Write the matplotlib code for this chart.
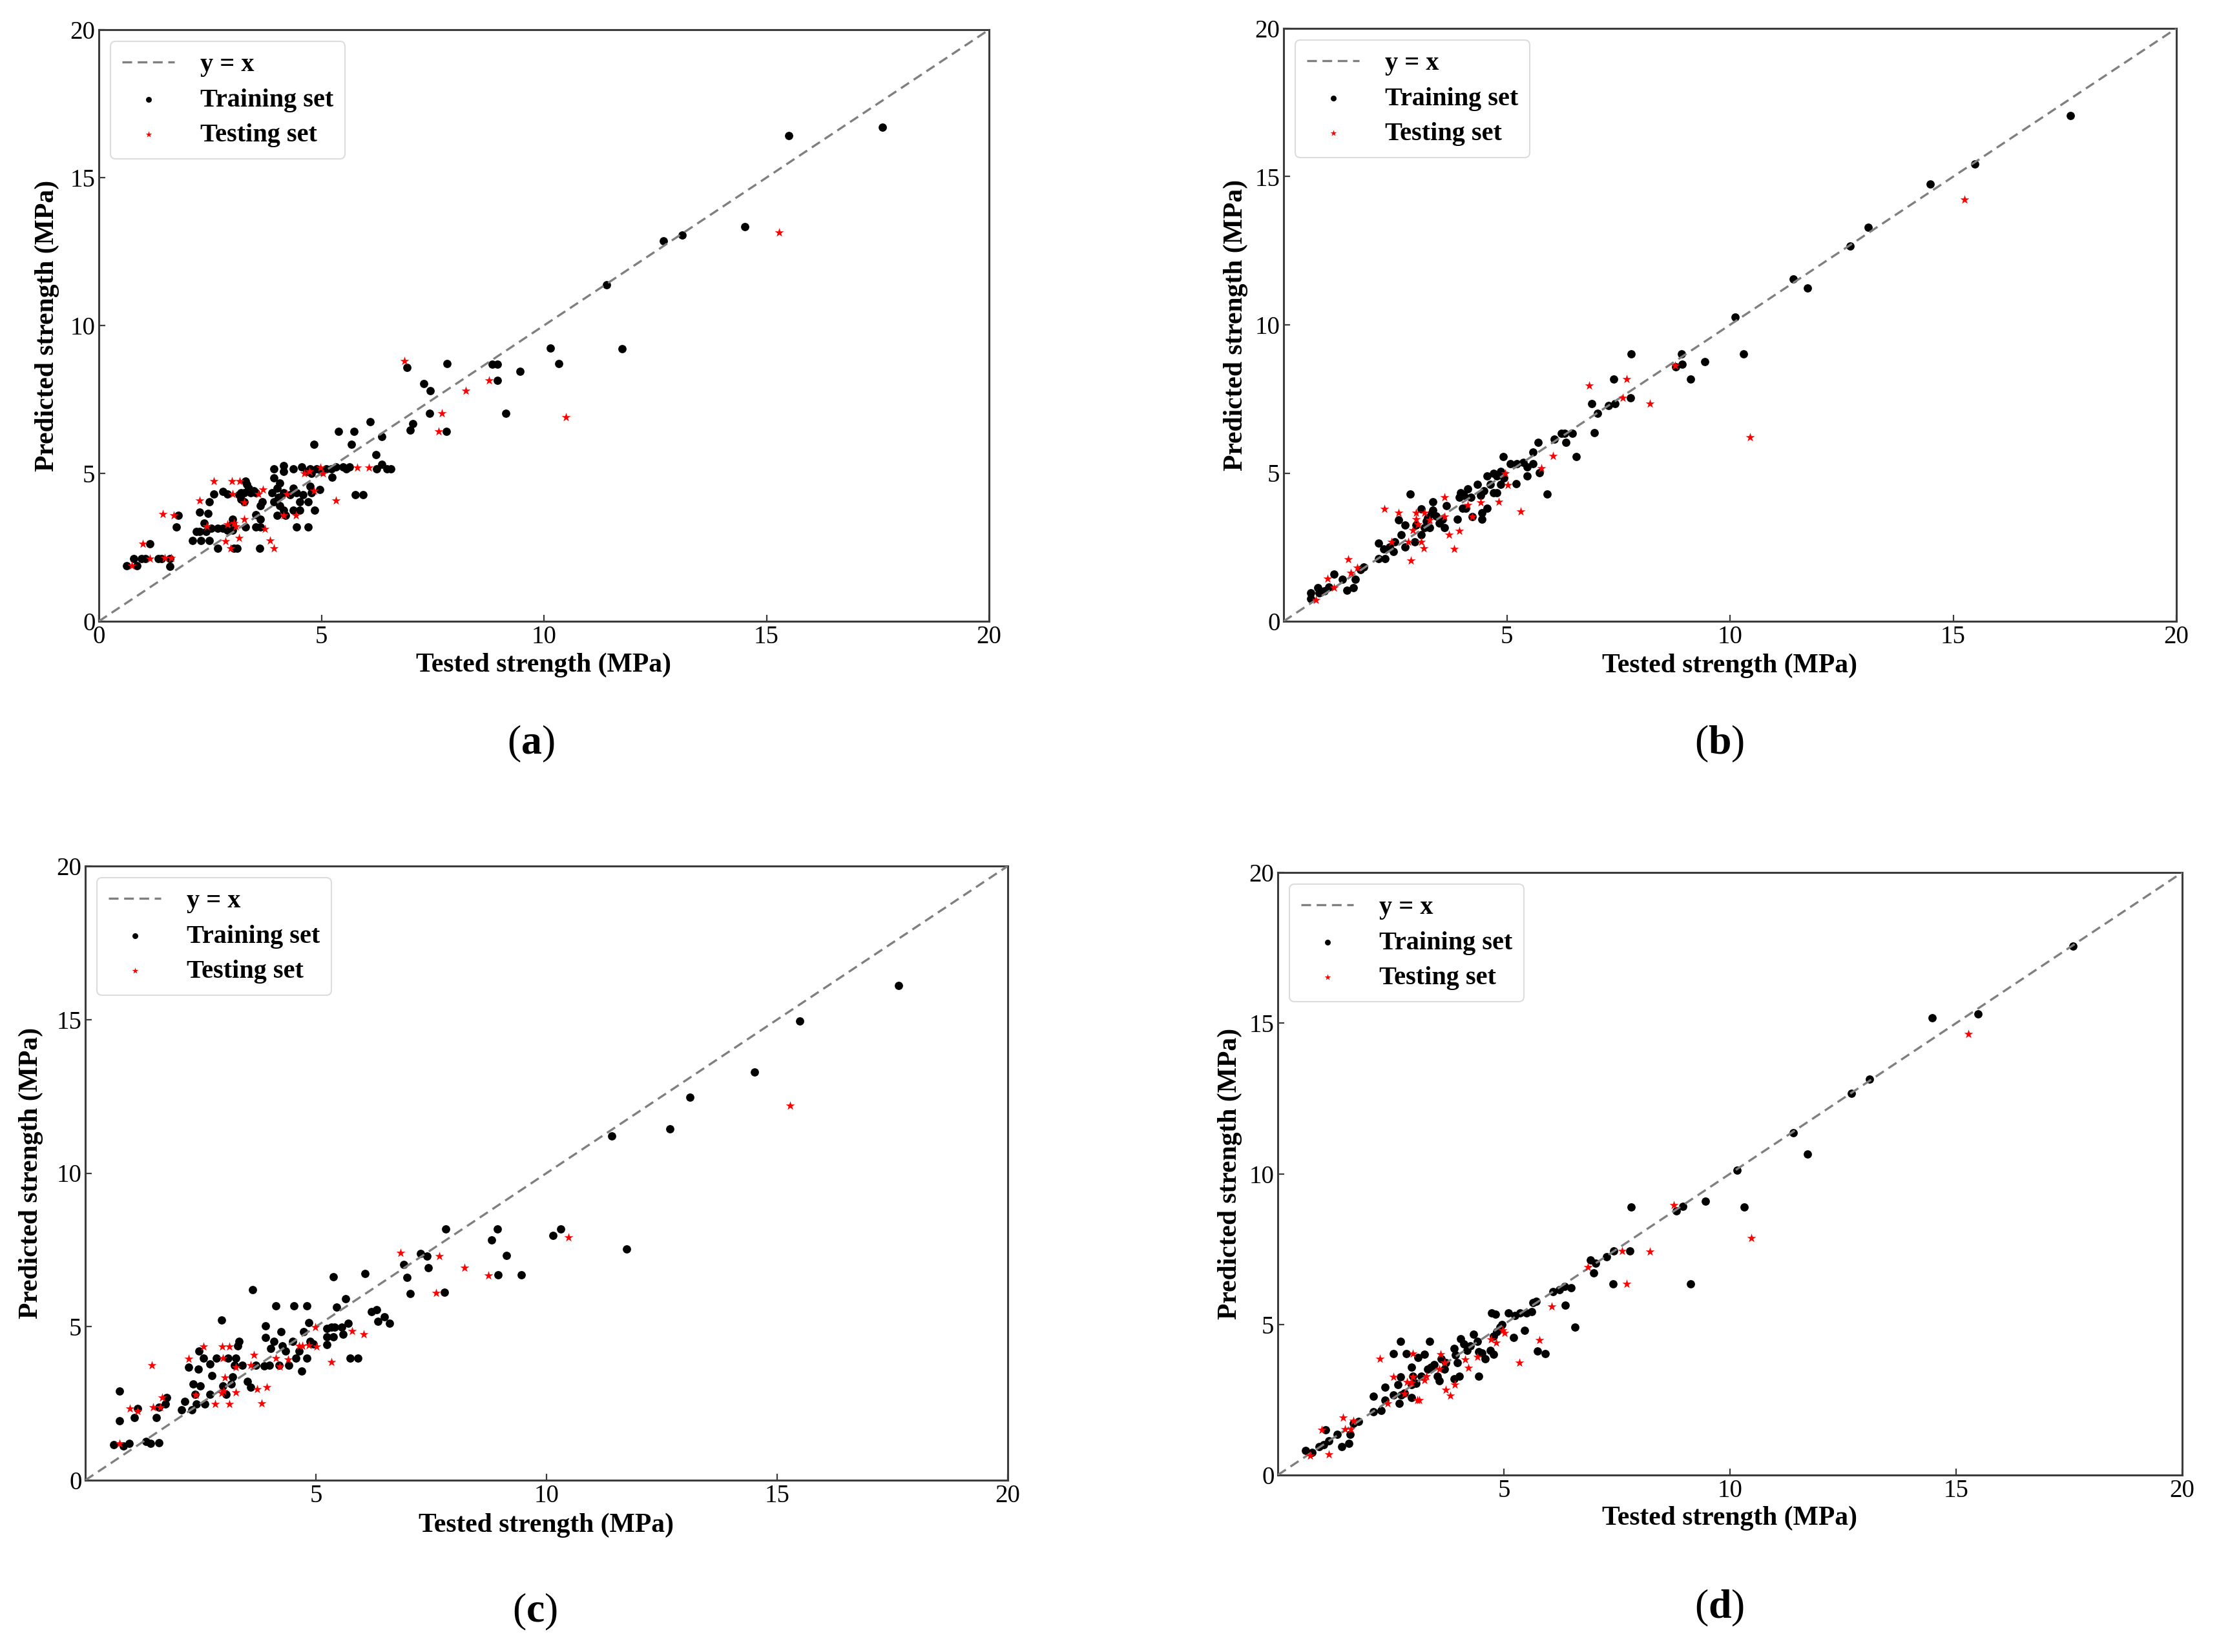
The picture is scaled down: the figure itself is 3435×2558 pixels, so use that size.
import matplotlib
matplotlib.use("Agg")
import matplotlib.pyplot as plt
import numpy as np

plt.rcParams['font.family'] = ['Liberation Serif', 'DejaVu Serif']
plt.rcParams['mathtext.fontset'] = 'custom'
plt.rcParams['mathtext.rm'] = 'Liberation Serif'
plt.rcParams['mathtext.bf'] = 'Liberation Serif:bold'

# ---------------- data: panel (a) ----------------
train_a = [
    (0.63, 1.88), (0.85, 1.88), (0.78, 2.12), (0.96, 2.12), (1.04, 2.12), (1.33, 2.12), (1.41, 2.12),
    (1.59, 2.12), (1.59, 1.86), (1.15, 2.63), (1.78, 3.58), (1.74, 3.19), (2.11, 2.74), (2.30, 2.74),
    (2.48, 2.74), (2.19, 3.03), (2.26, 3.03), (2.41, 3.03), (2.52, 3.14), (2.67, 3.14), (2.78, 3.14),
    (2.89, 3.07), (3.00, 3.07), (2.37, 3.32), (3.00, 3.32), (3.00, 3.45), (2.26, 3.70), (2.46, 3.65),
    (2.48, 4.05), (2.59, 4.31), (2.89, 4.31), (2.78, 4.38), (2.67, 2.46), (3.04, 2.46), (3.10, 2.46),
    (3.61, 2.46), (3.19, 4.34), (3.26, 4.34), (3.30, 4.74), (3.33, 4.63), (3.41, 4.34), (3.48, 4.42),
    (3.19, 4.12), (3.26, 4.05), (3.15, 4.27), (3.37, 4.49), (3.52, 4.34), (3.30, 3.19), (3.52, 3.19),
    (3.63, 3.19), (3.52, 3.61), (3.63, 3.45), (3.67, 4.05), (3.63, 3.90), (3.93, 5.15), (4.15, 5.26),
    (4.15, 5.07), (4.37, 5.15), (4.56, 5.22), (4.67, 5.07), (4.74, 5.15), (3.93, 4.85), (4.07, 4.67),
    (4.00, 4.49), (4.15, 4.34), (4.37, 4.49), (4.44, 4.34), (4.30, 4.27), (3.93, 4.05), (4.07, 3.90),
    (4.15, 3.76), (4.00, 3.58), (4.19, 3.58), (4.37, 3.76), (4.52, 3.76), (4.52, 4.05), (4.70, 4.05),
    (4.44, 3.19), (4.70, 3.19), (4.85, 3.76), (3.89, 4.34), (4.04, 4.20), (4.59, 4.27), (4.74, 4.56),
    (4.83, 5.99), (4.78, 4.34), (4.96, 4.45), (4.78, 5.00), (4.89, 5.15), (5.11, 5.15), (5.22, 5.15),
    (5.33, 5.22), (5.48, 5.22), (5.63, 5.22), (5.00, 5.07), (5.56, 5.15), (5.24, 4.87), (5.39, 6.41),
    (5.74, 6.41), (5.67, 5.99), (5.76, 4.29), (5.93, 4.29), (6.10, 6.75), (6.22, 5.64), (6.36, 6.24),
    (6.24, 5.15), (6.36, 5.30), (6.56, 5.15), (6.48, 5.15), (6.93, 8.58), (6.99, 6.46), (7.05, 6.68),
    (7.30, 8.03), (7.44, 7.79), (7.43, 7.04), (7.83, 8.71), (7.81, 6.41), (8.84, 8.69), (8.95, 8.69),
    (8.96, 8.14), (9.15, 7.04), (9.47, 8.45), (10.15, 9.23), (10.33, 8.71), (11.75, 9.21), (11.41, 11.38),
    (12.69, 12.87), (13.10, 13.06), (14.51, 13.35), (15.50, 16.43), (17.60, 16.70),
]
test_a = [
    (0.74, 1.88), (0.99, 2.63), (1.15, 2.12), (1.44, 3.63), (1.48, 2.13), (1.63, 2.13), (1.69, 3.58),
    (2.26, 4.09), (2.42, 3.21), (2.58, 4.74), (2.85, 2.70), (2.89, 3.28), (2.99, 4.74), (3.00, 4.31),
    (2.96, 2.46), (3.04, 3.32), (3.07, 3.21), (3.15, 2.81), (3.17, 4.74), (3.26, 4.01), (3.26, 3.45),
    (3.59, 4.31), (3.69, 4.45), (3.73, 3.12), (3.84, 2.74), (3.94, 2.46), (4.15, 3.58), (4.22, 4.31),
    (4.42, 3.58), (4.61, 5.00), (4.73, 5.07), (4.83, 4.42), (4.98, 5.20), (5.04, 5.00), (5.33, 4.09),
    (5.80, 5.20), (6.07, 5.20), (6.87, 8.81), (7.64, 6.41), (7.70, 7.04), (8.24, 7.79), (8.76, 8.14),
    (10.50, 6.91), (15.28, 13.14),
]

# ---------------- data: panel (b) ----------------
train_b = [
    (0.61, 0.95), (0.61, 0.76), (0.76, 1.13), (0.80, 0.95), (0.91, 1.02), (1.02, 1.16), (1.13, 1.60),
    (1.31, 1.42), (1.42, 1.05), (1.57, 1.14), (1.61, 1.42), (1.72, 1.75), (1.79, 1.82), (2.13, 2.64),
    (2.13, 2.11), (2.24, 2.44), (2.27, 2.11), (2.38, 2.51), (2.46, 2.36), (2.49, 2.69), (2.57, 3.43),
    (2.64, 2.91), (2.72, 2.51), (2.72, 3.24), (2.83, 4.29), (2.94, 2.67), (2.97, 3.24), (3.08, 2.91),
    (3.08, 3.78), (3.16, 3.16), (3.23, 3.49), (3.27, 3.16), (3.34, 4.04), (3.34, 3.75), (3.42, 3.56),
    (3.49, 3.31), (3.60, 3.16), (3.56, 3.45), (3.64, 3.89), (3.31, 3.64), (3.20, 3.38), (3.90, 3.45),
    (3.93, 4.18), (3.97, 4.33), (4.01, 3.82), (4.04, 4.25), (4.12, 4.47), (4.19, 4.18), (4.23, 3.53),
    (4.34, 4.62), (4.41, 4.25), (4.45, 3.67), (4.45, 3.45), (4.49, 4.40), (4.56, 3.82), (4.63, 4.62),
    (4.08, 3.82), (4.56, 4.91), (4.71, 4.33), (4.78, 4.33), (4.78, 4.91), (4.86, 5.05), (4.86, 4.62),
    (4.93, 4.84), (4.71, 4.98), (4.92, 5.56), (5.08, 5.31), (5.23, 5.31), (5.37, 5.35), (5.45, 5.20),
    (5.59, 5.31), (5.45, 4.91), (5.21, 4.63), (5.59, 5.71), (5.70, 6.04), (5.73, 5.02), (5.90, 4.29),
    (6.07, 6.15), (6.22, 6.33), (6.30, 6.33), (6.33, 6.04), (6.47, 6.33), (6.55, 5.56), (6.91, 7.35),
    (6.96, 6.36), (7.03, 7.02), (7.28, 7.27), (7.42, 7.35), (7.40, 8.18), (7.77, 7.53), (7.79, 9.03),
    (8.79, 8.58), (8.93, 8.67), (8.92, 9.03), (9.12, 8.18), (9.43, 8.75), (10.12, 10.27), (10.30, 9.03),
    (11.42, 11.54), (11.74, 11.25), (12.69, 12.66), (13.10, 13.29), (14.49, 14.76), (15.48, 15.43),
    (17.62, 17.05),
]
test_b = [
    (0.72, 0.71), (0.98, 1.43), (1.13, 1.13), (1.45, 2.09), (1.50, 1.64), (1.65, 1.80), (2.26, 3.80),
    (2.41, 2.69), (2.57, 3.67), (2.85, 2.04), (2.80, 2.69), (2.89, 3.08), (2.97, 3.67), (2.97, 3.45),
    (3.01, 3.27), (3.08, 2.69), (3.14, 2.47), (3.16, 3.67), (3.27, 3.42), (3.60, 4.18), (3.60, 3.53),
    (3.71, 2.91), (3.82, 2.45), (3.93, 3.05), (4.13, 3.93), (4.23, 3.53), (4.41, 4.00), (4.82, 4.04),
    (4.97, 5.00), (5.02, 4.60), (5.31, 3.71), (5.78, 5.16), (6.04, 5.58), (6.85, 7.95), (7.60, 7.53),
    (7.68, 8.18), (8.21, 7.35), (8.77, 8.63), (10.45, 6.20), (15.26, 14.22),
]

# ---------------- data: panel (c) ----------------
train_c = [
    (0.61, 1.16), (0.83, 1.11), (0.95, 1.19), (0.74, 2.90), (0.74, 1.93), (1.06, 2.05), (1.13, 2.34),
    (1.31, 1.26), (1.41, 1.19), (1.59, 1.23), (1.54, 2.05), (1.59, 2.38), (1.74, 2.49), (1.77, 2.70),
    (2.09, 2.30), (2.16, 2.57), (2.31, 2.30), (2.41, 2.49), (2.59, 2.49), (2.70, 2.80), (2.34, 3.14),
    (2.49, 3.07), (2.38, 2.80), (2.24, 3.68), (2.45, 3.62), (2.46, 4.21), (2.56, 3.98), (2.70, 3.79),
    (2.74, 3.41), (2.84, 3.98), (2.95, 5.21), (2.99, 3.07), (3.06, 2.80), (3.09, 3.98), (3.16, 3.14),
    (3.24, 3.75), (3.27, 3.98), (3.31, 4.37), (3.34, 4.52), (3.20, 3.37), (3.41, 3.75), (3.52, 3.22),
    (3.59, 3.03), (3.63, 6.21), (3.70, 3.75), (3.88, 3.72), (3.91, 5.02), (3.91, 4.64), (3.99, 3.75),
    (4.02, 4.29), (4.09, 4.52), (4.13, 5.67), (4.20, 3.75), (4.24, 4.83), (4.27, 4.37), (4.34, 4.21),
    (4.41, 3.75), (4.49, 4.52), (4.52, 5.67), (4.56, 3.98), (4.63, 4.21), (4.69, 3.56), (4.74, 4.83),
    (4.81, 5.67), (4.84, 5.13), (4.88, 4.52), (4.81, 3.98), (4.95, 4.44), (5.24, 4.94), (5.34, 4.98),
    (5.41, 4.98), (5.56, 4.98), (5.70, 5.10), (5.24, 4.67), (5.24, 4.41), (5.38, 4.67), (5.59, 4.75),
    (5.38, 6.63), (5.45, 5.63), (5.65, 5.92), (5.74, 3.98), (5.91, 3.98), (6.07, 6.74), (6.20, 5.48),
    (6.31, 5.56), (6.34, 5.17), (6.49, 5.33), (6.59, 5.10), (6.91, 7.03), (6.97, 6.61), (7.04, 6.07),
    (7.27, 7.39), (7.41, 7.29), (7.44, 6.92), (7.81, 8.18), (7.79, 6.11), (8.81, 7.83), (8.94, 8.18),
    (8.95, 6.69), (9.13, 7.32), (9.45, 6.69), (10.14, 7.97), (10.31, 8.18), (11.74, 7.53), (11.41, 11.20),
    (12.68, 11.44), (13.11, 12.47), (14.51, 13.29), (15.49, 14.95), (17.63, 16.11),
]
test_c = [
    (0.74, 1.19), (0.96, 2.33), (1.13, 2.26), (1.44, 3.75), (1.47, 2.37), (1.63, 2.37), (1.66, 2.69),
    (2.24, 3.96), (2.40, 2.77), (2.56, 4.35), (2.81, 2.49), (2.97, 4.35), (2.99, 3.98), (3.02, 3.35),
    (3.13, 4.35), (3.13, 2.49), (2.95, 2.83), (3.00, 2.90), (3.26, 2.87), (3.27, 3.69), (3.59, 3.75),
    (3.66, 4.09), (3.72, 2.96), (3.83, 2.50), (3.93, 3.02), (4.13, 3.98), (4.21, 3.71), (4.40, 3.94),
    (4.63, 4.38), (4.71, 4.38), (4.84, 4.40), (4.99, 4.98), (5.02, 4.36), (5.33, 3.84), (5.79, 4.86),
    (6.04, 4.76), (6.84, 7.41), (7.61, 6.10), (7.68, 7.30), (8.22, 6.91), (8.74, 6.67), (10.47, 7.90),
    (15.28, 12.20),
]

# ---------------- data: panel (d) ----------------
train_d = [
    (0.62, 0.82), (0.76, 0.74), (0.91, 0.94), (1.02, 1.01), (1.06, 1.50), (1.13, 1.13), (1.31, 1.34),
    (1.42, 0.95), (1.57, 1.04), (1.60, 1.34), (1.67, 1.71), (1.78, 1.78), (2.11, 2.61), (2.11, 2.10),
    (2.29, 2.14), (2.37, 2.49), (2.37, 2.92), (2.55, 2.65), (2.66, 3.00), (2.69, 2.38), (2.73, 2.65),
    (2.80, 2.73), (2.95, 2.57), (2.56, 4.04), (2.84, 4.04), (2.71, 4.43), (2.72, 3.26), (2.95, 3.00),
    (2.95, 3.59), (2.99, 3.27), (3.06, 3.04), (3.10, 3.90), (3.24, 4.01), (3.17, 3.27), (3.31, 3.51),
    (3.35, 4.43), (3.46, 3.66), (3.53, 3.27), (3.57, 3.12), (3.61, 3.86), (3.68, 3.51), (3.71, 3.74),
    (3.39, 3.59), (3.90, 4.21), (3.93, 3.98), (3.97, 3.74), (4.01, 3.27), (3.90, 3.20), (4.04, 4.52),
    (4.12, 4.36), (4.19, 4.13), (4.26, 4.29), (4.33, 4.68), (4.41, 4.44), (4.44, 4.09), (4.44, 3.27),
    (4.52, 4.05), (4.59, 3.86), (4.70, 4.13), (4.77, 4.01), (4.77, 4.60), (4.84, 4.75), (4.92, 4.91),
    (4.95, 4.99), (4.73, 5.38), (4.81, 5.34), (5.10, 5.38), (5.24, 5.30), (5.35, 5.38), (5.50, 5.38),
    (5.61, 5.42), (5.21, 4.56), (5.45, 4.81), (5.64, 5.73), (5.72, 5.77), (5.74, 4.12), (5.92, 4.04),
    (6.08, 6.08), (6.23, 6.16), (6.34, 6.27), (6.48, 6.21), (6.36, 5.63), (6.57, 4.91), (6.92, 7.13),
    (7.03, 7.03), (6.98, 6.72), (7.27, 7.25), (7.43, 7.44), (7.41, 6.35), (7.79, 7.44), (7.81, 8.90),
    (8.81, 8.77), (8.96, 8.92), (9.13, 6.35), (9.45, 9.08), (10.16, 10.12), (10.32, 8.90),
    (11.72, 10.65), (11.40, 11.37), (12.69, 12.66), (13.08, 13.14), (14.47, 15.17), (15.48, 15.31),
    (17.59, 17.56),
]
test_d = [
    (0.71, 0.64), (0.97, 1.50), (1.13, 0.68), (1.44, 1.91), (1.48, 1.52), (1.62, 1.52), (1.67, 1.79),
    (2.26, 3.86), (2.55, 3.26), (2.43, 2.38), (2.80, 2.71), (2.86, 3.08), (2.95, 3.06), (2.99, 3.26),
    (2.99, 4.04), (3.09, 2.49), (3.13, 2.49), (3.24, 3.16), (3.28, 3.27), (3.57, 3.51), (3.60, 4.01),
    (3.68, 3.74), (3.71, 2.82), (3.82, 2.63), (3.91, 3.00), (4.14, 3.83), (4.22, 3.55), (4.41, 3.93),
    (4.72, 4.51), (4.83, 4.40), (4.97, 4.80), (5.02, 4.72), (5.34, 3.74), (5.79, 4.48), (6.05, 5.60),
    (6.85, 6.90), (7.61, 7.44), (7.71, 6.35), (8.23, 7.42), (8.75, 8.95), (10.47, 7.86), (15.27, 14.64),
]

panel_names = ['a', 'b', 'c', 'd']
train_sets = [train_a, train_b, train_c, train_d]
test_sets = [test_a, test_b, test_c, test_d]
xtick_sets = [[0, 5, 10, 15, 20], [5, 10, 15, 20], [5, 10, 15, 20], [5, 10, 15, 20]]
ytick_vals = [0, 5, 10, 15, 20]
legend_labels = ['y = x', 'Training set', 'Testing set']

# ---------------- layout (pixels in 3435 x 2558) ----------------
W, H = 3435, 2558
axes_px = [(153, 46, 1531, 962), (1987, 44, 3369, 962),
           (132, 1341, 1560, 2292), (1978, 1351, 3378, 2284)]
ylab_x = [-0.058, -0.054, -0.059, -0.053]
xlab_y = [-0.074, -0.075, -0.073, -0.072]
label_pos = [(822, 1152), (2662, 1152), (828, 2496), (2662, 2490)]

fig = plt.figure(figsize=(W / 100, H / 100), dpi=100)
spine_col = '#3c3c3c'

for i in range(4):
    l, t, r, b = axes_px[i]
    ax = fig.add_axes([l / W, 1 - b / H, (r - l) / W, (b - t) / H])
    tr = np.array(train_sets[i])
    te = np.array(test_sets[i])
    ax.plot([0, 20], [0, 20], linestyle=(0, (4.5, 2.6)), color='#7f7f7f', lw=2.4,
            label=legend_labels[0], zorder=3)
    ax.scatter(tr[:, 0], tr[:, 1], s=85, c='black', marker='o', linewidths=0,
               label=legend_labels[1], zorder=2)
    ax.scatter(te[:, 0], te[:, 1], s=110, c='red', marker='*', linewidths=0,
               label=legend_labels[2], zorder=4)
    ax.set_xlim(0, 20)
    ax.set_ylim(0, 20)
    ax.set_xticks(xtick_sets[i])
    ax.set_yticks(ytick_vals)
    ax.tick_params(direction='in', length=7, width=1.6, color=spine_col,
                   labelsize=28, pad=4)
    for sp in ax.spines.values():
        sp.set_linewidth(2.2)
        sp.set_color(spine_col)
    ax.set_xlabel('Tested strength (MPa)', fontsize=30, fontweight='bold')
    ax.set_ylabel('Predicted strength (MPa)', fontsize=30, fontweight='bold')
    ax.xaxis.label.set_va('center')
    ax.yaxis.label.set_va('center')
    ax.xaxis.set_label_coords(0.5, xlab_y[i])
    ax.yaxis.set_label_coords(ylab_x[i], 0.5)
    leg = ax.legend(loc='upper left', prop={'size': 29, 'weight': 'bold'},
                    markerscale=0.7, handlelength=2.0, handletextpad=1.0,
                    labelspacing=0.42, borderpad=0.45, borderaxespad=0.45,
                    fancybox=True, framealpha=1.0, edgecolor='#dcdcdc')
    leg.get_frame().set_linewidth(1.5)
    fig.text(label_pos[i][0] / W, 1 - label_pos[i][1] / H,
             r'$(\mathbf{' + panel_names[i] + r'})$', fontsize=46,
             ha='center', va='center')

fig.savefig('out.png', dpi=100)
